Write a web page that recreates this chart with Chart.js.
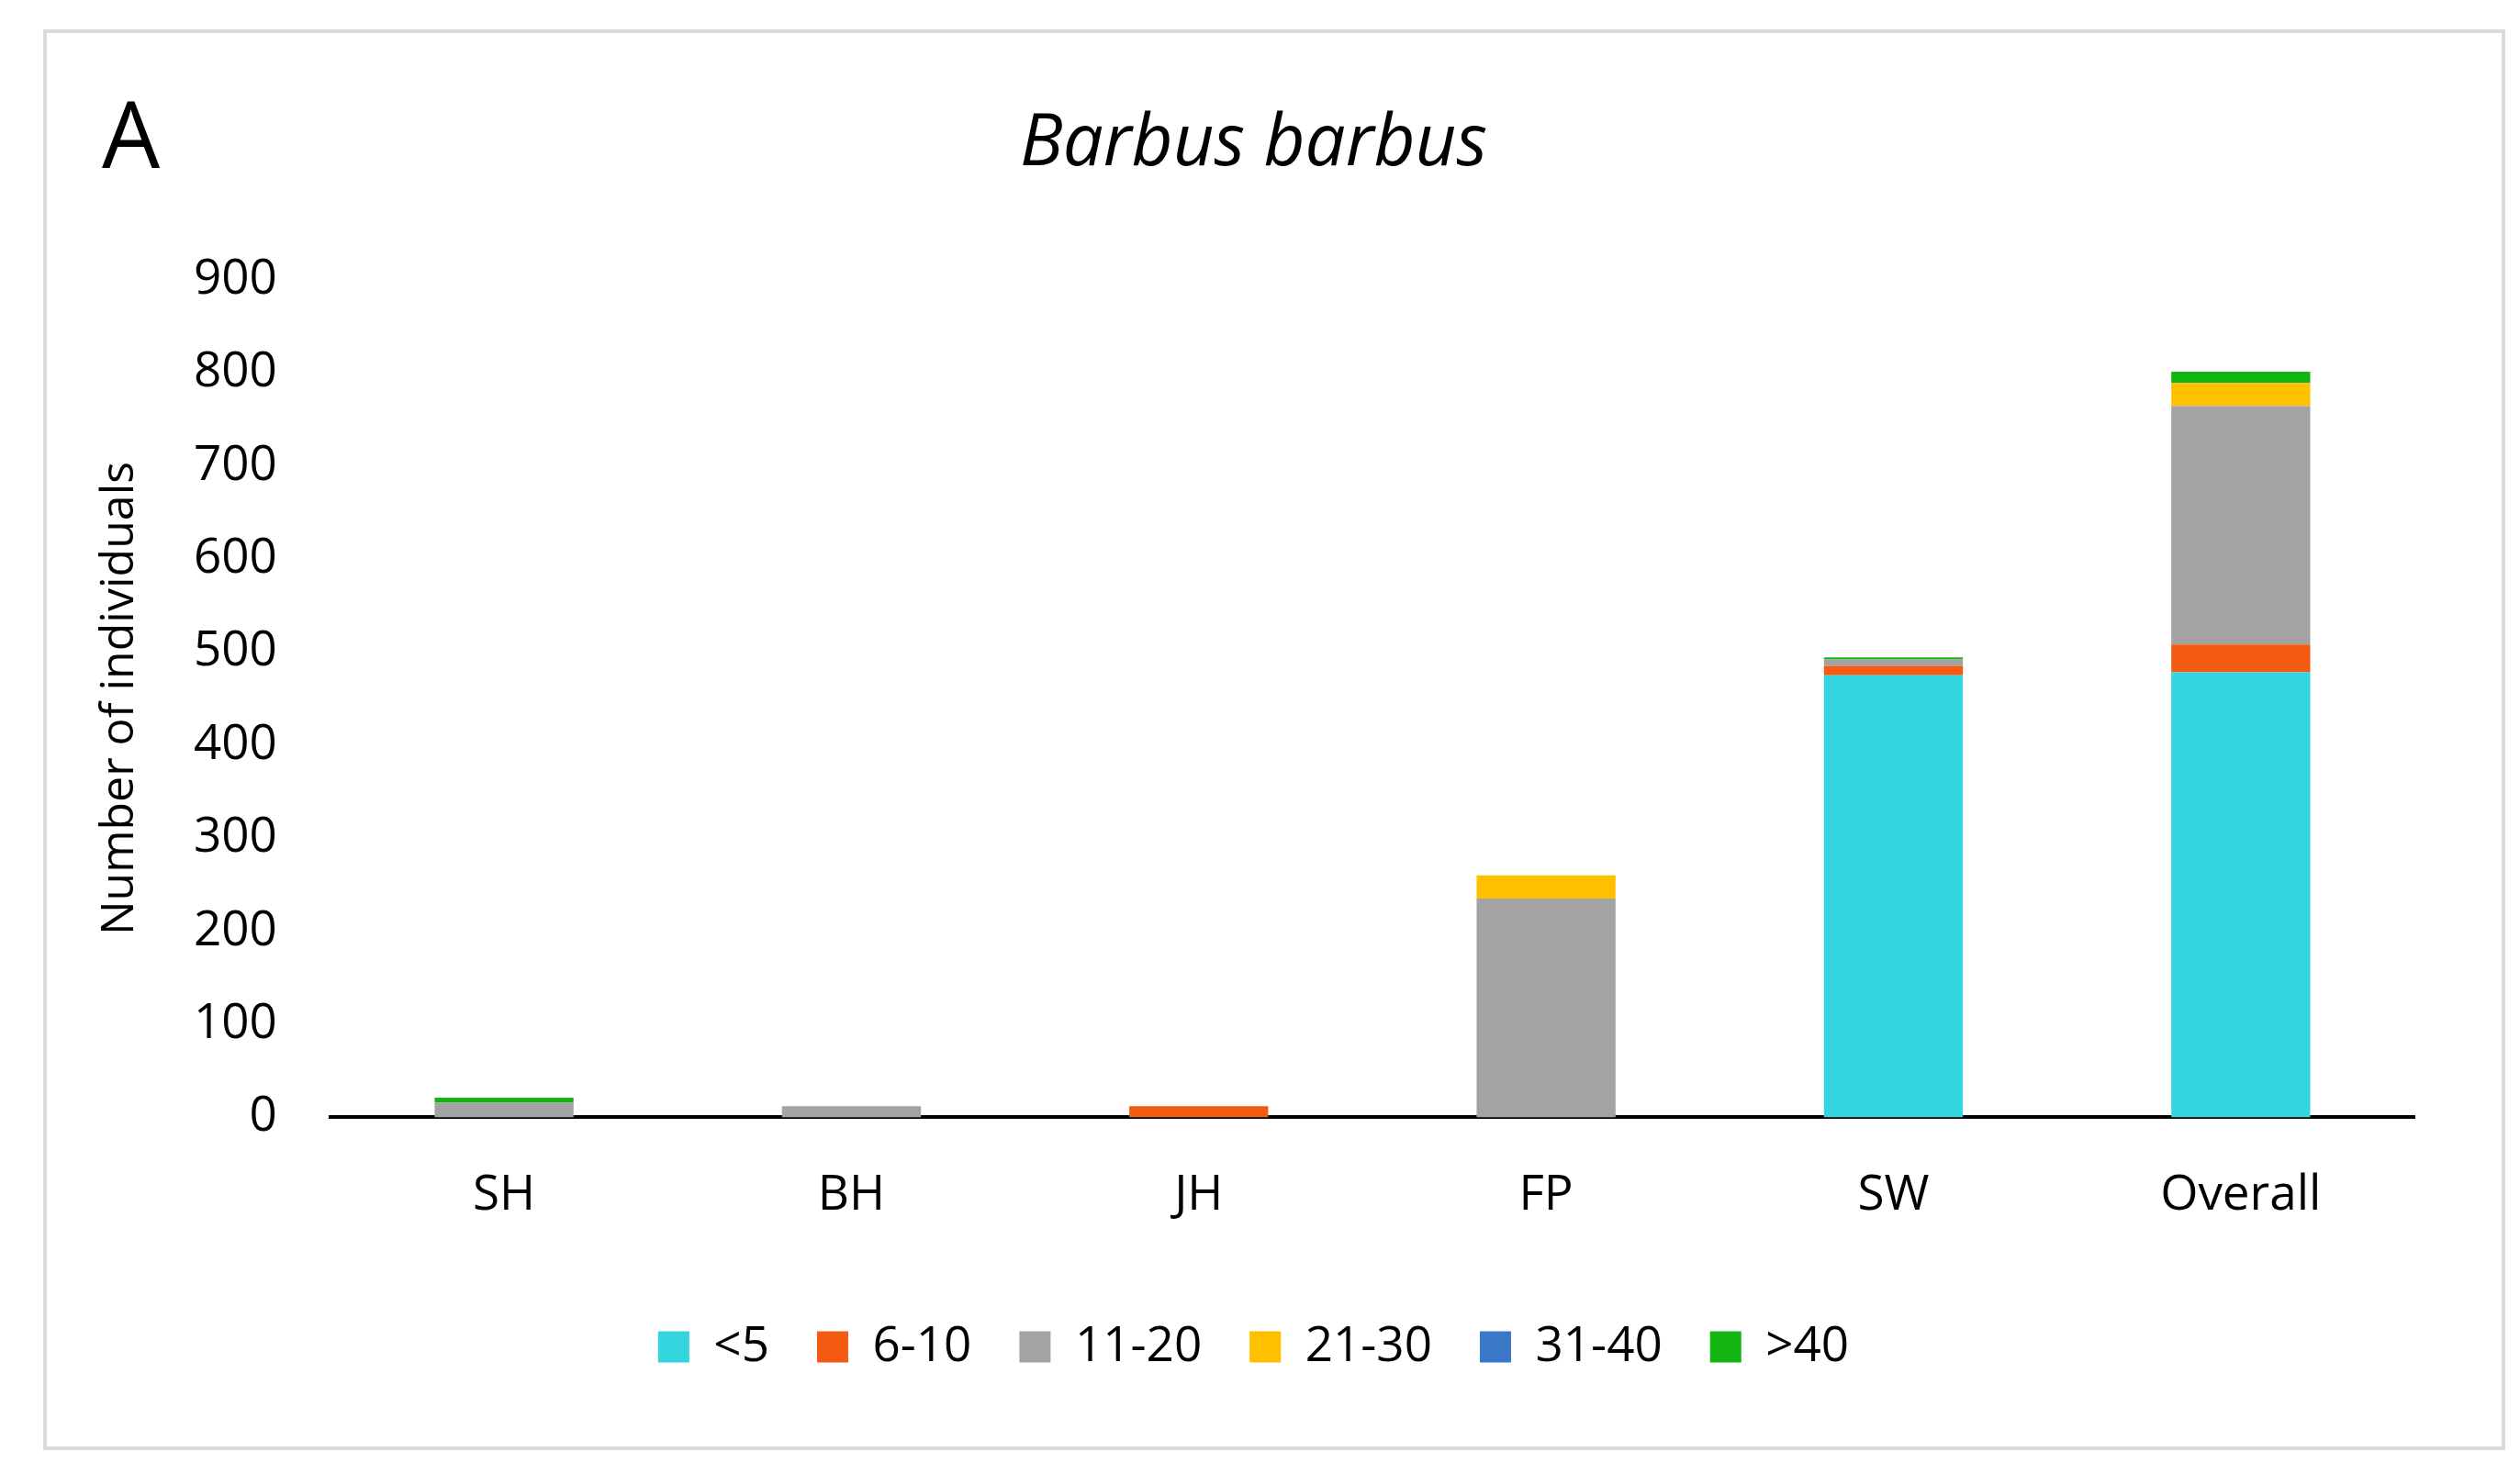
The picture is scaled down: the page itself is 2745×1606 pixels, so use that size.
<!DOCTYPE html>
<html><head><script src="https://cdn.jsdelivr.net/npm/chart.js@4"></script>
<style>html,body{margin:0;background:#fff;}#wrap{position:absolute;left:47px;top:32px;width:2674px;height:1540px;border:4px solid #d9d9d9;}
#A{position:absolute;left:60px;top:40px;font:100px "Open Sans",sans-serif;color:#000;}</style></head>
<body><div id="wrap"><div id="A">A</div><canvas id="c"></canvas></div>
<script>
const categories=["SH","BH","JH","FP","SW","Overall"];
const seriesNames=["<5","6-10","11-20","21-30","31-40",">40"];
const lt5=[0,0,0,0,475,478];
const s6_10=[0,0,12,0,10,30];
const s11_20=[16,12,0,235,7,256];
const s21_30=[0,0,0,25,0,25];
const s31_40=[0,0,0,0,0,0];
const gt40=[5,0,0,0,2,12];
const colors=["#33d6de","#f35b12","#a3a3a3","#ffc000","#3c78c8","#13b513"];
const vals=[lt5,s6_10,s11_20,s21_30,s31_40,gt40];
const c=document.getElementById('c');c.width=2674;c.height=1540;
new Chart(c,{type:'bar',data:{labels:categories,datasets:vals.map((v,i)=>({label:seriesNames[i],data:v,backgroundColor:colors[i],barPercentage:0.4,categoryPercentage:1}))},
options:{responsive:false,animation:false,
layout:{padding:{left:50,right:95,top:20,bottom:72}},
plugins:{title:{display:true,text:'Barbus barbus',font:{family:'Open Sans',size:78,style:'italic',weight:'normal'},color:'#000',padding:{top:55,bottom:100}},
legend:{position:'bottom',labels:{font:{family:'Open Sans',size:53},color:'#000',boxWidth:34,boxHeight:34,padding:52},},tooltip:{enabled:false}},
scales:{x:{stacked:true,grid:{display:false,drawTicks:false},border:{color:'#000',width:4},ticks:{font:{family:'Open Sans',size:53},color:'#000',padding:54}},
y:{stacked:true,min:0,max:900,grid:{display:false},border:{display:false},ticks:{stepSize:100,font:{family:'Open Sans',size:53},color:'#000',padding:50},
title:{display:true,text:'Number of individuals',font:{family:'Open Sans',size:50},color:'#000',padding:0}}}}});
</script></body></html>
